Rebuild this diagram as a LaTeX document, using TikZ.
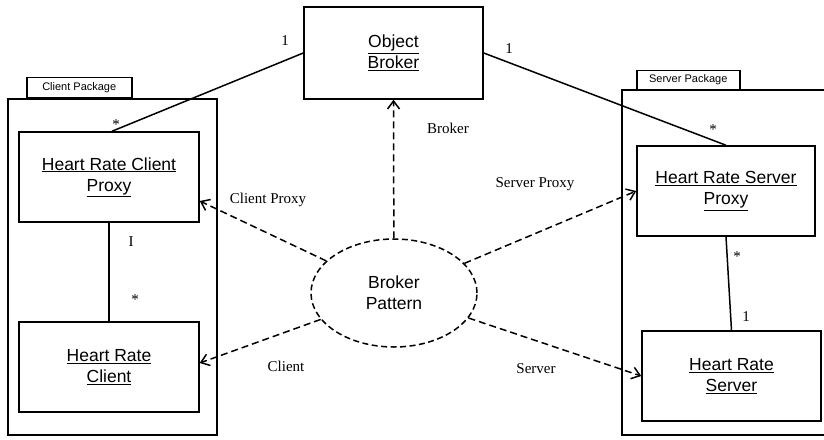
\documentclass[tikz,border=0pt]{standalone}
\usepackage{fontspec}
\setmainfont{Liberation Sans}
\newfontfamily\labfont{Liberation Serif}
\usetikzlibrary{arrows.meta,shapes.geometric,calc}
\tikzset{
  cls/.style={draw,line width=1.5pt,minimum width=180pt,minimum height=90pt,align=center,inner sep=0pt,
    font=\fontsize{17.5}{21}\selectfont},
  pkg/.style={draw,line width=2pt},
  tabbox/.style={draw,line width=1.5pt,anchor=south west,inner sep=0pt,font=\fontsize{11}{12}\selectfont},
  assoc/.style={line width=1.5pt},
  dep/.style={line width=1.5pt,dash pattern=on 7pt off 4pt,-{Straight Barb[length=8pt,width=12pt,line width=1.5pt]}},
  lab/.style={font=\labfont\fontsize{15}{17}\selectfont,inner sep=0pt},
  mult/.style={font=\labfont\fontsize{15}{17}\selectfont,inner sep=0pt},
}
\begin{document}
\begin{tikzpicture}[x=1pt,y=-1pt]
\useasboundingbox (0,0) rectangle (824,439);
% packages
\node[pkg,anchor=north west,minimum width=209pt,minimum height=336pt,inner sep=0pt] (cpkg) at (7,98) {};
\node[tabbox,minimum width=105pt,minimum height=20pt] (ctab) at (26,98) {Client Package};
\coordinate (sptr) at (826,90);
\coordinate (spbr) at (826,435);
\draw[line width=2pt] (sptr) -- (622,90) -- (622,435) -- (spbr);
\node[tabbox,minimum width=103pt,minimum height=19pt] (stab) at (636,90) {Server Package};
% classes
\node[cls,minimum width=179pt,minimum height=92pt] (broker) at (393.5,53) {\underline{Object}\\\underline{Broker}};
\node[cls] (cproxy) at (109,177) {\underline{Heart Rate Client}\\\underline{Proxy}};
\node[cls] (cclient) at (109,367) {\underline{Heart Rate}\\\underline{Client}};
\node[cls,minimum width=178pt] (sproxy) at (726,191) {\underline{Heart Rate Server}\\\underline{Proxy}};
\node[cls,minimum width=179pt] (sserver) at (731.5,376) {\underline{Heart Rate}\\\underline{Server}};
% pattern
\node[ellipse,draw,line width=1.5pt,dash pattern=on 6pt off 3.5pt,minimum width=166pt,minimum height=108pt,inner sep=0pt,
  align=center,font=\fontsize{17.5}{21}\selectfont] (pattern) at (394,293) {Broker\\Pattern};
% associations
\draw[assoc] (broker.west) -- ($(cproxy.north)+(3,0)$);
\draw[assoc] (broker.east) -- (sproxy.north);
\draw[assoc] (cproxy.south) -- (cclient.north);
\draw[assoc] (sproxy.south) -- (sserver.north);
% dependencies
\draw[dep] (pattern) -- (broker.south);
\draw[dep] (pattern) -- ($(cproxy.east)+(0,24)$);
\draw[dep] (pattern) -- ($(cclient.east)+(0,-4)$);
\draw[dep] (pattern) -- (sproxy.west);
\draw[dep] (pattern) -- (sserver.west);
% labels
\node[lab] (lbroker) at (448,128) {Broker};
\node[lab] (lcproxy) at (268,200) {Client Proxy};
\node[lab] (lclient) at (286,366) {Client};
\node[lab] (lsproxy) at (535,184) {Server Proxy};
\node[lab] (lserver) at (536,369) {Server};
% multiplicities
\node[mult] (m1) at (285,41) {1};
\node[mult] (m2) at (116,125) {*};
\node[mult] (m3) at (509,49) {1};
\node[mult] (m4) at (713,130) {*};
\node[mult] (m5) at (131,242) {I};
\node[mult] (m6) at (135,300) {*};
\node[mult] (m7) at (737,257) {*};
\node[mult] (m8) at (746,317) {1};
\end{tikzpicture}
\end{document}
